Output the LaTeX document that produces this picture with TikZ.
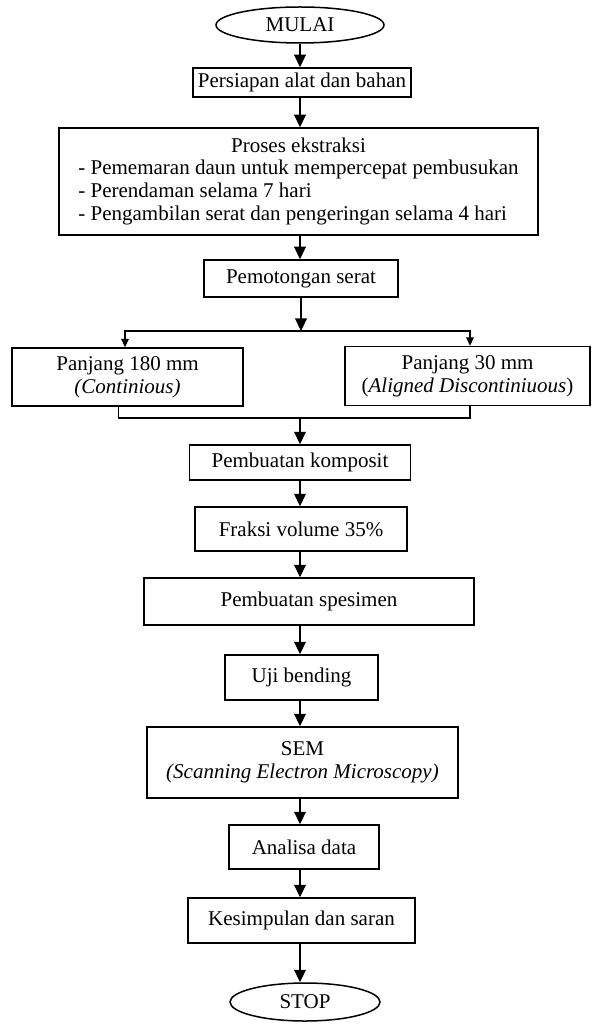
\documentclass[tikz,border=0pt]{standalone}
\usepackage{fontspec}
\setmainfont{Liberation Serif}
\usetikzlibrary{arrows.meta, positioning, shapes.geometric}

\begin{document}
\begin{tikzpicture}[
  x=0.6pt, y=-0.6pt,
  >={Triangle[length=7.5pt, width=7pt]},
  box/.style={draw, line width=0.9pt, align=center, inner sep=2pt,
    font=\fontsize{12.6}{13.6}\selectfont},
  term/.style={ellipse, draw, line width=0.9pt, inner sep=1pt,
    font=\fontsize{12.6}{13.6}\selectfont},
  arr/.style={->, line width=0.9pt},
  arrsmall/.style={-{Triangle[length=5pt, width=4.5pt]}, line width=0.9pt},
  link/.style={line width=0.9pt},
]

\useasboundingbox (0,0) rectangle (592,1027);

% Start and first steps
\node[term, minimum width=100.8pt, minimum height=21.6pt] (mulai) at (300,25) {MULAI};
\node[box, minimum width=130.8pt, minimum height=17.4pt] (persiapan) at (302,82.5) {Persiapan alat dan bahan};
\node[box, minimum width=287.4pt, minimum height=64.2pt] (proses) at (298.5,181.5)
  {\begin{tabular}{@{}l@{}}
   \multicolumn{1}{@{}c@{}}{Proses ekstraksi}\\
   - Pememaran daun untuk mempercepat pembusukan\\
   - Perendaman selama 7 hari\\
   - Pengambilan serat dan pengeringan selama 4 hari
   \end{tabular}};
\node[box, minimum width=116.4pt, minimum height=22.2pt] (pemotongan) at (301,278.5) {Pemotongan serat};

% === Two fibre lengths ===
\coordinate (split) at (301,331);
\node[box, minimum width=138.6pt, minimum height=34.8pt] (panjangA) at (127.5,377)
  {Panjang 180 mm\\\textit{(Continious)}};
\node[box, minimum width=147pt, minimum height=35.4pt] (panjangB) at (467.5,376)
  {Panjang 30 mm\\(\textit{Aligned Discontiniuous})};
\coordinate (merge) at (300,418);

% === Composite and testing ===
\node[box, minimum width=132.6pt, minimum height=21pt] (komposit) at (300,462.5) {Pembuatan komposit};
\node[box, minimum width=127.2pt, minimum height=26.4pt] (fraksi) at (301,529) {Fraksi volume 35\%};
\node[box, minimum width=198pt, minimum height=28.2pt] (spesimen) at (309,601.5) {Pembuatan spesimen};
\node[box, minimum width=91.8pt, minimum height=27pt] (uji) at (301.5,677.5) {Uji bending};
\node[box, minimum width=186.6pt, minimum height=42.6pt] (sem) at (302.5,762.5)
  {SEM\\\textit{(Scanning Electron Microscopy)}};
\node[box, minimum width=90pt, minimum height=26.4pt] (analisa) at (304,847) {Analisa data};
\node[box, minimum width=136.2pt, minimum height=27pt] (kesimpulan) at (301.5,920.5) {Kesimpulan dan saran};
\node[term, minimum width=90pt, minimum height=22.8pt] (stop) at (305,1002) {STOP};

\coordinate (axis) at (300,0);

% Main vertical arrows
\foreach \a/\b in {mulai/persiapan, persiapan/proses, proses/pemotongan,
    komposit/fraksi, fraksi/spesimen, spesimen/uji, uji/sem,
    sem/analisa, analisa/kesimpulan, kesimpulan/stop}
  \draw[arr] (\a.south -| axis) -- (\b.north -| axis);

% Branch and merge
\draw[arr] (pemotongan.south -| split) -- (split);
\draw[arrsmall] (split) -| ([xshift=-1.5pt]panjangA.north);
\draw[arrsmall] (split) -| ([xshift=1.5pt]panjangB.north);
\draw[link] ([xshift=-5.5pt]panjangA.south) |- (merge) -| ([xshift=1.5pt]panjangB.south);
\draw[arr] (merge) -- (komposit.north -| merge);

\end{tikzpicture}
\end{document}
